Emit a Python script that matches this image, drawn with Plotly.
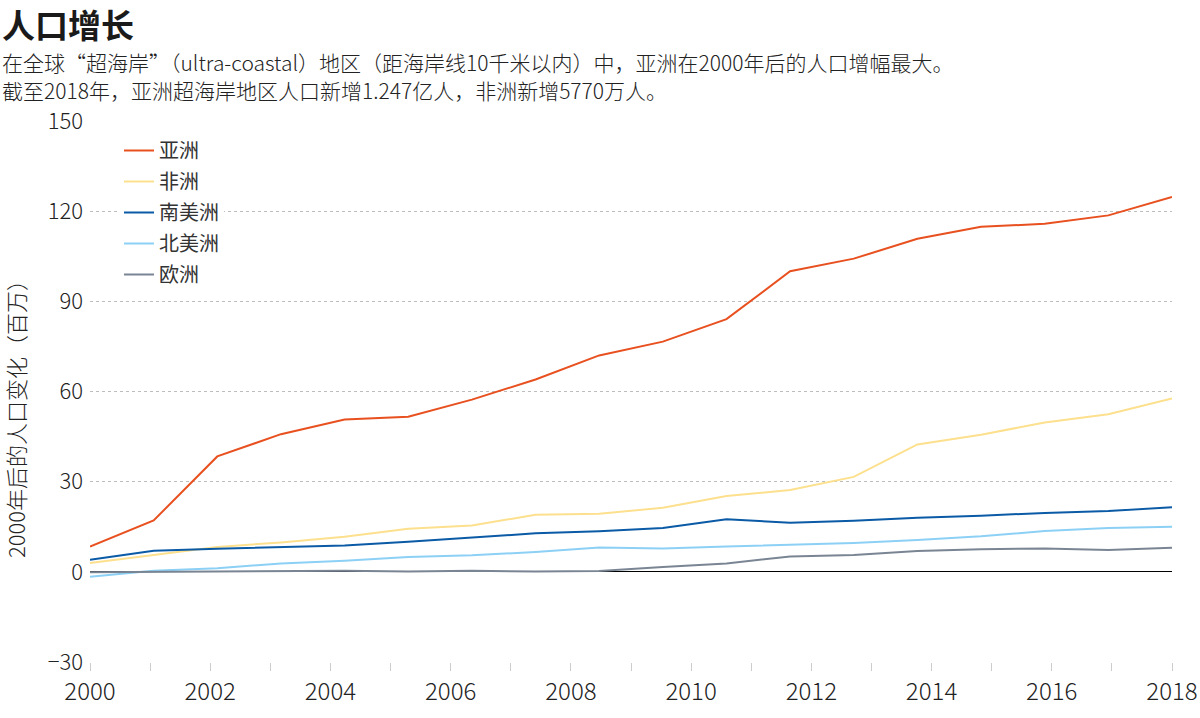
import plotly.graph_objects as go

# ---- data ----
years = list(range(2000, 2019))                 # axis ticks
tick_labels = [str(y) if y % 2 == 0 else "" for y in years]
n_points = 18                                   # observations spread evenly over 2000-2018
series_names = ["亚洲", "非洲", "南美洲", "北美洲", "欧洲"]
asia = [8.4, 17.1, 38.4, 45.8, 50.7, 51.6, 57.3, 64.0, 72.0, 76.6, 84.1, 100.0, 104.2, 110.8, 114.8, 115.8, 118.6, 124.7]
africa = [2.9, 5.6, 8.3, 9.8, 11.7, 14.3, 15.4, 19.0, 19.3, 21.3, 25.2, 27.2, 31.6, 42.4, 45.6, 49.7, 52.4, 57.7]
south_america = [4.0, 7.0, 7.7, 8.3, 8.8, 10.0, 11.3, 12.8, 13.5, 14.6, 17.5, 16.3, 17.0, 18.0, 18.7, 19.6, 20.2, 21.5]
north_america = [-1.6, 0.4, 1.2, 2.8, 3.7, 4.9, 5.5, 6.6, 8.1, 7.8, 8.4, 8.9, 9.6, 10.6, 11.8, 13.6, 14.6, 15.0]
europe = [-0.1, 0.0, 0.1, 0.3, 0.4, 0.1, 0.4, 0.1, 0.3, 1.6, 2.8, 5.1, 5.6, 6.9, 7.5, 7.8, 7.3, 8.0]
y_ticks = [-30, 0, 30, 60, 90, 120, 150]
colors = ["#e8501f", "#fde08e", "#0a5aa6", "#8dd0f5", "#7a8594"]

title_text = "人口增长"
subtitle_lines = [
    "在全球“超海岸”（ultra-coastal）地区（距海岸线10千米以内）中，亚洲在2000年后的人口增幅最大。",
    "截至2018年，亚洲超海岸地区人口新增1.247亿人，非洲新增5770万人。",
]
y_title = "2000年后的人口变化（百万）"

FONT = "Noto Sans CJK SC"
W, H = 1200, 718
ML, MR, MT, MB = 90, 28, 121, 56
PW, PH = W - ML - MR, H - MT - MB

def px_x(px):
    return (px - ML) / PW

def px_y(py):
    return (H - MB - py) / PH

fig = go.Figure()
idx = list(range(n_points))
for name, vals, col in zip(series_names, [asia, africa, south_america, north_america, europe], colors):
    fig.add_trace(go.Scatter(x=idx, y=vals, name=name, mode="lines",
                             line=dict(color=col, width=2), xaxis="x2", legendgroup=name))

# invisible trace to anchor the year axis
fig.add_trace(go.Scatter(x=[years[0], years[-1]], y=[None, None], mode="lines",
                         showlegend=False, hoverinfo="skip", xaxis="x"))

annotations = [
    dict(text="<b>" + title_text + "</b>", xref="paper", yref="paper", x=px_x(0), y=px_y(24),
         xanchor="left", yanchor="middle", showarrow=False,
         font=dict(size=33, family=FONT, color="#1a1a1a")),
    dict(text=y_title, xref="paper", yref="paper",
         x=px_x(15), y=px_y(414), xanchor="center", yanchor="middle",
         textangle=-90, showarrow=False,
         font=dict(size=22, family=FONT, color="#222", weight=300)),
]
for i, line in enumerate(subtitle_lines):
    annotations.append(dict(text=line, xref="paper", yref="paper", x=px_x(0), y=px_y(62 + 27.5 * i),
                            xanchor="left", yanchor="middle", showarrow=False,
                            font=dict(size=21, family=FONT, color="#222", weight=300)))

fig.update_layout(
    width=W, height=H,
    margin=dict(l=ML, r=MR, t=MT, b=MB, autoexpand=False),
    paper_bgcolor="white", plot_bgcolor="white",
    font=dict(family=FONT, color="#222"),
    showlegend=True,
    legend=dict(x=px_x(119), y=px_y(131), xanchor="left", yanchor="top",
                bgcolor="white", font=dict(size=20, family=FONT, color="#333"),
                tracegroupgap=2, itemwidth=30),
    xaxis=dict(range=[years[0], years[-1]], tickvals=years, ticktext=tick_labels,
               ticks="outside", ticklen=8, tickcolor="#cccccc", tickwidth=1,
               showgrid=False, zeroline=False, showline=False, automargin=False,
               tickfont=dict(size=24, family=FONT, color="#222", weight=300)),
    xaxis2=dict(range=[0, n_points - 1], overlaying="x", visible=False),
    yaxis=dict(range=[y_ticks[0], y_ticks[-1]], tickvals=y_ticks,
               showgrid=True, gridcolor="#bdbdbd", griddash="dot", gridwidth=1,
               zeroline=True, zerolinecolor="#000000", zerolinewidth=1,
               showline=False, ticks="", ticklabelstandoff=6, automargin=False,
               tickfont=dict(size=22, family=FONT, color="#222", weight=300)),
    annotations=annotations,
)

fig.write_html("out.html")
